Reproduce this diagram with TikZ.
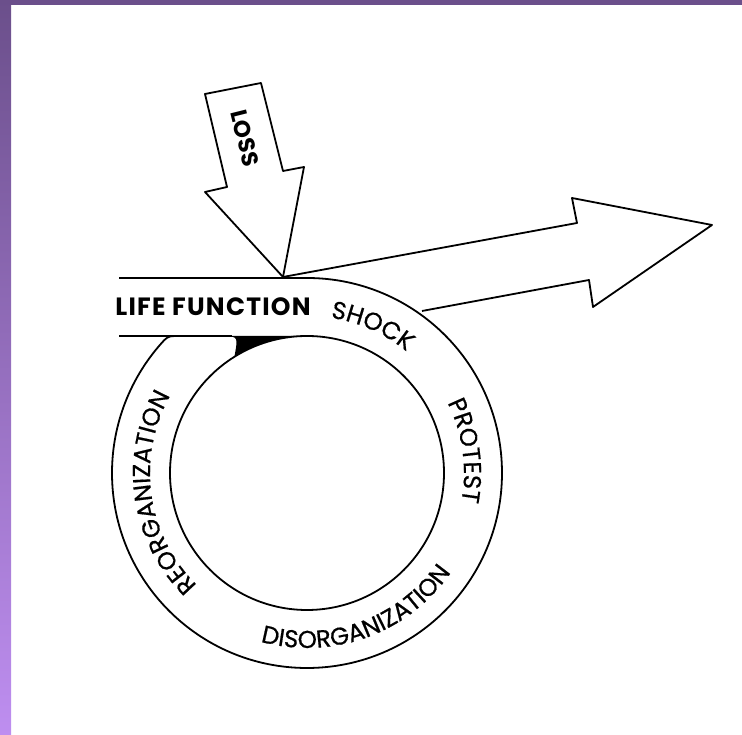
\documentclass[tikz,border=0pt]{standalone}
\usepackage{fontspec}
\setmainfont{Poppins}
\newfontfamily\ringfam[FakeBold=0.6]{Poppins}
\usepackage{xcolor}
\definecolor{lgframe}{RGB}{107,79,139}
\definecolor{lgframelight}{RGB}{190,142,240}
\usepackage{tikz}
\usetikzlibrary{calc, decorations.text}
\newcommand{\ringfont}{\ringfam\fontsize{24.5}{24.5}\selectfont}
\newcommand{\bandfont}{\bfseries\fontsize{25}{25}\selectfont\addfontfeatures{LetterSpace=5}}

\begin{document}
\begin{tikzpicture}[x=1pt, y=1pt, line join=round,
    outline/.style={draw=black, line width=1.8pt},
    ringtext/.style={decorate, decoration={text along path, text align=center, text={|\ringfont|#1}}}]
      \useasboundingbox (0,0) rectangle (742,735);
      % Frame
      \fill[lgframe] (0,730) rectangle (742,735);
      \shade[top color=lgframe, bottom color=lgframelight] (0,0) rectangle (11,735);
      \coordinate (ctr) at (307,262);
      % Ring and life function band
      \draw[outline] (119,457) -- (307,457) arc[start angle=90, end angle=-223, radius=195]
           .. controls (169,399) .. (182,399);
      \draw[outline] (119,399) -- (232,399);
      \draw[outline] (ctr) circle (137);
      \fill (226,399) .. controls (238,398) .. ($(ctr)+(122:137)$)
           arc[start angle=122, end angle=90, radius=137] -- cycle;
      % Loss arrow
      \draw[outline, fill=white] (205,641) -- (261,652) -- (283,564) -- (304,568) -- (283,458)
           -- (205,543) -- (227,548) -- cycle;
      \node[font=\bfseries\fontsize{23}{23}\selectfont, rotate=-76] (loss) at (245,597) {LOSS};
      % Outgoing arrow
      \draw[outline] (283,458) -- (577,512) -- (572,537) -- (712,510) -- (593,428) -- (589,455) -- (422,424);
      % Labels
      \node[font=\bandfont] (life) at (213,428) {LIFE FUNCTION};
      \path[ringtext=SHOCK] ($(ctr)+(100:157)$) arc[start angle=100, end angle=32, radius=157];
      \path[ringtext=PROTEST] ($(ctr)+(45:157)$) arc[start angle=45, end angle=-29, radius=157];
      \path[ringtext=DISORGANIZATION] ($(ctr)+(-120:175)$) arc[start angle=-120, end angle=-20, radius=175];
      \path[ringtext=REORGANIZATION] ($(ctr)+(240:157)$) arc[start angle=240, end angle=136, radius=157];
    \end{tikzpicture}
\end{document}
